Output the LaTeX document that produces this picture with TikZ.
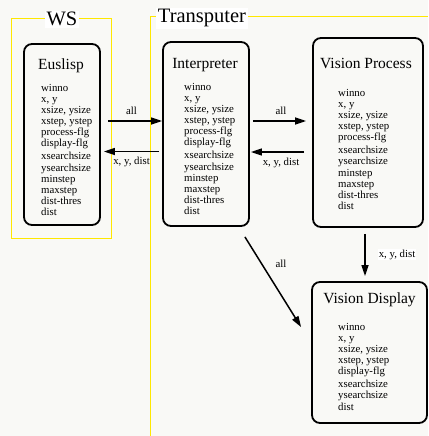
\documentclass[tikz,border=0pt]{standalone}
\usepackage{fontspec}
\setmainfont{Liberation Serif}
\usetikzlibrary{arrows.meta}
\definecolor{paper}{RGB}{249,249,246}
\definecolor{wsyellow}{RGB}{255,232,0}
\tikzset{
  proc/.style={draw, line width=1.8pt, rounded corners=8pt, fill=paper, inner sep=0pt},
  ttl/.style={anchor=base, inner sep=0pt, font=\fontsize{15.5}{18}\selectfont},
  vars/.style={anchor=north west, align=left, inner sep=0pt, font=\fontsize{10.8}{11.1}\selectfont},
  flow/.style={line width=1.5pt, -{Triangle[length=11pt,width=7pt]}},
  lbl/.style={inner sep=1pt, font=\fontsize{10.8}{13}\selectfont},
  area/.style={draw=wsyellow, line width=0.8pt},
  areatitle/.style={fill=white, inner sep=1.5pt, anchor=base, font=\fontsize{20.5}{24}\selectfont}
}
\begin{document}
\begin{tikzpicture}[x=1pt,y=-1pt]
\useasboundingbox[fill=paper] (0,0) rectangle (428,436);
% machines
\draw[area] (11,18) rectangle (111,238);
\draw[area] (428,16) -- (150,16) -- (150,436);
\node[areatitle] (ws) at (62,26) {WS};
\node[areatitle] (tp) at (202,23) {Transputer};

% processes
\node[proc, minimum width=76pt, minimum height=181pt] (eus) at (62,134.5) {};
\node[ttl] (eustitle) at (61,70) {Euslisp};
\node[vars] (eusvars) at (41,84) {winno\\ x, y\\ xsize, ysize\\ xstep, ystep\\ process-flg\\ display-flg\\[2pt]
  xsearchsize\\ ysearchsize\\ minstep\\ maxstep\\ dist-thres\\ dist};

\node[proc, minimum width=86pt, minimum height=184pt] (int) at (206,134) {};
\node[ttl] (inttitle) at (205,68) {Interpreter};
\node[vars] (intvars) at (184,83) {winno\\ x, y\\ xsize, ysize\\ xstep, ystep\\ process-flg\\ display-flg\\[2pt]
  xsearchsize\\ ysearchsize\\ minstep\\ maxstep\\ dist-thres\\ dist};

\node[proc, minimum width=110pt, minimum height=189pt] (vp) at (368,132.5) {};
\node[ttl] (vptitle) at (366,68) {Vision Process};
\node[vars] (vpvars) at (338,89) {winno\\ x, y\\ xsize, ysize\\ xstep, ystep\\ process-flg\\[2pt]
  xsearchsize\\ ysearchsize\\ minstep\\ maxstep\\ dist-thres\\ dist};

\node[proc, minimum width=115pt, minimum height=141pt] (vd) at (369.5,352.5) {};
\node[ttl] (vdtitle) at (369.5,303) {Vision Display};
\node[vars] (vdvars) at (338,323) {winno\\ x, y\\ xsize, ysize\\ xstep, ystep\\ display-flg\\[2pt]
  xsearchsize\\ ysearchsize\\ dist};

% data flow
\draw[flow, shorten <=7pt] ([yshift=13.5pt]eus.east) -- ([yshift=13.5pt]eus.east -| int.west)
  node[lbl, midway, above=5pt] {all};
\draw[flow, shorten <=3pt, shorten >=3pt] ([yshift=-17pt]eus.east -| int.west) -- ([yshift=-17pt]eus.east)
  node[lbl, midway, below=4pt] {x, y, dist};
\draw[flow, shorten <=3pt, shorten >=6pt] ([yshift=13pt]int.east) -- ([yshift=13pt]int.east -| vp.west)
  node[lbl, midway, above=5pt] {all};
\draw[flow, shorten <=8pt, shorten >=1pt] ([yshift=-18pt]int.east -| vp.west) -- ([yshift=-18pt]int.east)
  node[lbl, midway, below=4pt] {x, y, dist};
\draw[flow, shorten <=6pt, shorten >=5pt] ([xshift=-3pt]vp.south) -- ([xshift=-3pt]vp.south |- vd.north)
  node[lbl, fill=white, midway, right=12pt] {x, y, dist};
\draw[flow] ([shift={(-5,10)}]int.south east) -- ([shift={(-10,46)}]vd.north west)
  node[lbl, pos=0.3, right=12pt] {all};
\end{tikzpicture}
\end{document}
